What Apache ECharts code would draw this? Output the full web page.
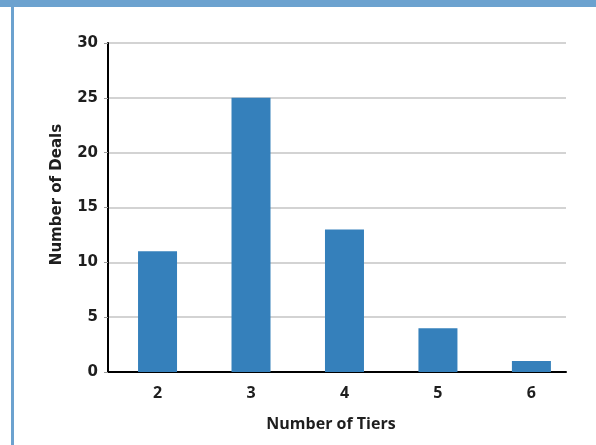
<!DOCTYPE html>
<html>
<head>
<meta charset="utf-8">
<script src="https://cdn.jsdelivr.net/npm/echarts@6/dist/echarts.min.js"></script>
<style>
  html, body { margin: 0; padding: 0; background: #fff; }
  #chart { width: 596px; height: 445px; }
</style>
</head>
<body>
<div id="chart"></div>
<script>
// Deals grouped by how many tiers they have
const tiers = [2, 3, 4, 5, 6];
const deals = [11, 25, 13, 4, 1];
const yTicks = [0, 5, 10, 15, 20, 25, 30];

const chart = echarts.init(document.getElementById('chart'));
const barColor = '#3580bb';
const frameColor = '#6ca2cf';
const textColor = '#1e1e1e';

chart.setOption({
  animation: false,
  graphic: [
    { type: 'rect', shape: { x: 0, y: 0, width: 596, height: 7 }, style: { fill: frameColor }, z: 100 },
    { type: 'rect', shape: { x: 11, y: 0, width: 3, height: 445 }, style: { fill: frameColor }, z: 100 }
  ],
  grid: { left: 108, right: 30, top: 43, bottom: 73, containLabel: false },
  xAxis: {
    type: 'value',
    min: 1.47,
    max: 6.37,
    name: 'Number of Tiers',
    nameLocation: 'middle',
    nameGap: 44,
    nameTextStyle: {
      fontFamily: 'Open Sans', fontWeight: 'bold', fontSize: 16, color: textColor,
      padding: [0, 12, 0, 0]
    },
    axisLine: { show: true, onZero: false, lineStyle: { color: '#000', width: 2 } },
    axisTick: { show: false },
    splitLine: { show: false },
    axisLabel: {
      customValues: tiers,
      margin: 13,
      fontFamily: 'Open Sans', fontWeight: 'bold', fontSize: 16, color: textColor
    }
  },
  yAxis: {
    type: 'value',
    min: 0,
    max: 30,
    interval: 5,
    name: 'Number of Deals',
    nameLocation: 'middle',
    nameGap: 43,
    nameTextStyle: {
      fontFamily: 'DejaVu Sans', fontWeight: 'bold', fontSize: 15, color: textColor,
      padding: [0, 0, 0, 26]
    },
    axisLine: { show: true, lineStyle: { color: '#000', width: 2 } },
    axisTick: { show: true, length: 4, lineStyle: { color: '#999', width: 1 } },
    splitLine: { show: true, lineStyle: { color: '#c4c4c4', width: 1.5 } },
    axisLabel: {
      margin: 10,
      fontFamily: 'DejaVu Sans', fontWeight: 'bold', fontSize: 15, color: textColor,
      formatter: v => (yTicks.indexOf(v) >= 0 ? String(v) : '')
    }
  },
  series: [{
    type: 'bar',
    data: tiers.map((t, i) => [t, deals[i]]),
    barWidth: 39,
    itemStyle: { color: barColor }
  }]
});
</script>
</body>
</html>
